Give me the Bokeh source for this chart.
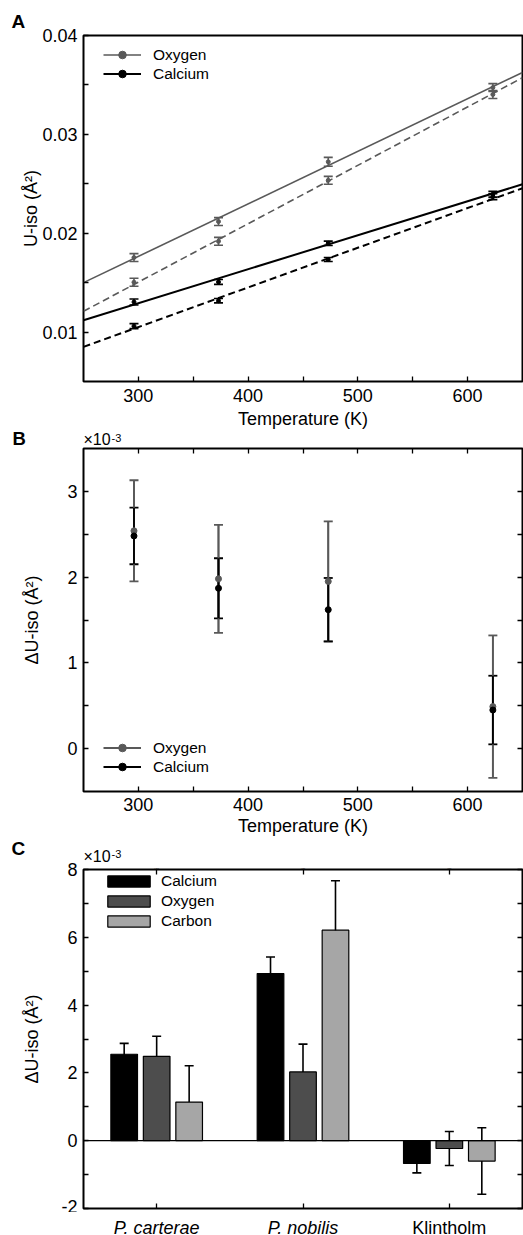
from bokeh.plotting import figure
from bokeh.models import (FixedTicker, LinearAxis, CategoricalAxis, Whisker, TeeHead, Legend,
                          LegendItem, ColumnDataSource, Span, PrintfTickFormatter,
                          Range1d, FactorRange)
from bokeh.core.properties import value
from bokeh.layouts import column
from bokeh.transform import dodge
from bokeh.embed import file_html
from bokeh.resources import INLINE

# ---------------- data ----------------
# Panel A: U-iso vs temperature
temps = [296, 373, 473, 623]
oxy_solid = [0.01754, 0.02118, 0.02722, 0.03473]
oxy_solid_err = [0.0004, 0.0004, 0.00045, 0.0004]
oxy_dashed = [0.01504, 0.01918, 0.02535, 0.03403]
oxy_dashed_err = [0.0004, 0.0004, 0.0004, 0.0004]
ca_solid = [0.01304, 0.01507, 0.01898, 0.02395]
ca_solid_err = [0.0003, 0.00025, 0.00022, 0.0003]
ca_dashed = [0.0106, 0.01317, 0.01734, 0.0237]
ca_dashed_err = [0.00025, 0.00022, 0.0002, 0.0003]
# linear fits evaluated at the axis limits
fit_temps = [250, 650]
oxy_fit_solid = [0.0150, 0.03626]
oxy_fit_dashed = [0.0121, 0.03573]
ca_fit_solid = [0.0112, 0.02495]
ca_fit_dashed = [0.0085, 0.02455]

# Panel B: delta U-iso (x10^-3)
d_oxy = [2.54, 1.98, 1.95, 0.49]
d_oxy_err = [0.59, 0.63, 0.70, 0.83]
d_ca = [2.48, 1.87, 1.62, 0.45]
d_ca_err = [0.33, 0.35, 0.37, 0.40]

# Panel C: delta U-iso per sample (x10^-3)
species = ["P. carterae", "P. nobilis", "Klintholm"]
species_italic = ["P. carterae", "P. nobilis"]
species_plain = ["Klintholm"]
c_ca = [2.55, 4.93, -0.67]
c_ca_err = [0.32, 0.49, 0.28]
c_oxy = [2.49, 2.03, -0.23]
c_oxy_err = [0.59, 0.82, 0.50]
c_carb = [1.14, 6.21, -0.60]
c_carb_err = [1.07, 1.46, 0.98]

x_major = [300, 400, 500, 600]
x_minor = [350, 450, 550]

# ---------------- style ----------------
FONT = "Liberation Sans"
W = 523
GRAY = "#595959"
TICK_PX = "18px"


def no_align(p):
    if "frame_align" in p.properties():
        p.frame_align = False


def make_fig(height, x_range, y_range, top, bottom):
    p = figure(width=W, height=height, x_range=x_range, y_range=y_range,
               output_backend="svg", toolbar_location=None,
               min_border_left=83, min_border_right=1, min_border_top=top,
               min_border_bottom=bottom)
    p.grid.visible = False
    p.outline_line_color = "black"
    p.outline_line_width = 2
    p.outline_line_alpha = 1
    p.background_fill_color = "white"
    p.border_fill_color = "white"
    return p


def style_axis(ax, hidden=False):
    ax.axis_line_color = None
    ax.major_tick_in = 5
    ax.major_tick_out = 0
    ax.minor_tick_in = 5
    ax.minor_tick_out = 0
    ax.major_tick_line_color = "black"
    ax.minor_tick_line_color = "black"
    ax.major_tick_line_width = 1.3
    ax.minor_tick_line_width = 1.3
    ax.major_label_text_font = FONT
    ax.major_label_text_font_size = TICK_PX
    ax.major_label_text_color = "black"
    ax.axis_label_text_font = FONT
    ax.axis_label_text_font_size = "18px"
    ax.axis_label_text_font_style = "normal"
    ax.axis_label_text_color = "black"
    if hidden:
        ax.major_label_text_font_size = "1px"
        ax.major_label_standoff = 0
        ax.axis_label = None


def header(height, items):
    """A text strip (1 unit = 1 pixel of the page, y measured from the strip top)."""
    p = figure(width=W, height=height, x_range=Range1d(0, W), y_range=Range1d(height, 0),
               x_axis_type=None, y_axis_type=None, output_backend="svg",
               toolbar_location=None, min_border_left=0, min_border_right=0,
               min_border_top=0, min_border_bottom=0, outline_line_color=None)
    no_align(p)
    p.grid.visible = False
    for x, y, txt, size, style in items:
        p.text(x=[x], y=[y], text=[txt], text_font=value(FONT),
               text_font_size=value(size), text_font_style=value(style),
               text_baseline=value("middle"), text_align=value("left"),
               text_color="black")
    return p


def whisker(p, src, base, upper, lower, color, size=9, width=1.6):
    w = Whisker(source=src, base=base, upper=upper, lower=lower,
                line_color=color, line_width=width,
                upper_head=TeeHead(size=size, line_color=color, line_width=width),
                lower_head=TeeHead(size=size, line_color=color, line_width=width))
    p.add_layout(w)
    return w


def err_src(x, vals, errs):
    return ColumnDataSource(dict(t=x, v=vals,
                                 up=[v + e for v, e in zip(vals, errs)],
                                 lo=[v - e for v, e in zip(vals, errs)]))


# ---------------- Panel A ----------------
hA = header(28, [(11, 21, "A", "19px", "bold")])

pa = make_fig(403, Range1d(250, 650), Range1d(0.005, 0.04), 7, 47)
xa, ya = pa.xaxis[0], pa.yaxis[0]
xa.ticker = FixedTicker(ticks=x_major, minor_ticks=x_minor)
ya.ticker = FixedTicker(ticks=[0.01, 0.02, 0.03, 0.04], minor_ticks=[0.015, 0.025, 0.035])
ya.formatter = PrintfTickFormatter(format="%.2f")
style_axis(xa)
style_axis(ya)
xa.axis_label = "Temperature (K)"
ya.axis_label = "U-iso (Å²)"
xa.major_label_standoff = 7
xa.axis_label_standoff = 4
ya.major_label_standoff = 6
ya.axis_label_standoff = -2

fit_src = ColumnDataSource(dict(t=fit_temps, os=oxy_fit_solid, od=oxy_fit_dashed,
                                cs=ca_fit_solid, cd=ca_fit_dashed))
l_os = pa.line("t", "os", source=fit_src, line_color=GRAY, line_width=1.6)
pa.line("t", "od", source=fit_src, line_color=GRAY, line_width=1.6, line_dash="7 4")
l_cs = pa.line("t", "cs", source=fit_src, line_color="black", line_width=2)
pa.line("t", "cd", source=fit_src, line_color="black", line_width=2, line_dash="7 4")

series_a = [
    (oxy_solid, oxy_solid_err, GRAY),
    (oxy_dashed, oxy_dashed_err, GRAY),
    (ca_solid, ca_solid_err, "black"),
    (ca_dashed, ca_dashed_err, "black"),
]
pts = []
for vals, errs, col in series_a:
    src = err_src(temps, vals, errs)
    whisker(pa, src, "t", "up", "lo", col, size=9, width=1.6)
    pts.append(pa.scatter("t", "v", source=src, size=4, color=col))

leg_a = Legend(items=[LegendItem(label="Oxygen", renderers=[l_os, pts[0]]),
                      LegendItem(label="Calcium", renderers=[l_cs, pts[2]])],
               location=(20, 298), border_line_color=None, background_fill_alpha=0,
               padding=0, spacing=0, margin=0, glyph_width=38, glyph_height=19,
               label_height=19, label_standoff=12, label_text_font=FONT,
               label_text_font_size="15.5px", label_text_color="black")
pa.add_layout(leg_a)

# ---------------- Panel B ----------------
hB = header(16, [(12, 7.4, "B", "18.5px", "bold"),
                 (83, 8.2, "×10", "16px", "normal"),
                 (111, 6.5, "-3", "11px", "normal")])

pb = make_fig(391, Range1d(250, 650), Range1d(-0.5, 3.5), 1, 43)
xb, yb = pb.xaxis[0], pb.yaxis[0]
xb.ticker = FixedTicker(ticks=x_major, minor_ticks=x_minor)
yb.ticker = FixedTicker(ticks=[0, 1, 2, 3], minor_ticks=[0.5, 1.5, 2.5])
style_axis(xb)
style_axis(yb)
xb.axis_label = "Temperature (K)"
yb.axis_label = "ΔU-iso (Å²)"
xb.major_label_standoff = 6
xb.axis_label_standoff = 2
yb.major_label_standoff = 6
yb.axis_label_standoff = 22
ra = LinearAxis(ticker=FixedTicker(ticks=[0, 1, 2, 3], minor_ticks=[0.5, 1.5, 2.5]),
                formatter=PrintfTickFormatter(format=""))
ta = LinearAxis(ticker=FixedTicker(ticks=x_major, minor_ticks=x_minor),
                formatter=PrintfTickFormatter(format=""))
style_axis(ra, hidden=True)
style_axis(ta, hidden=True)
pb.add_layout(ra, "right")
pb.add_layout(ta, "above")

src_bo = err_src(temps, d_oxy, d_oxy_err)
src_bc = err_src(temps, d_ca, d_ca_err)
seg_bo = pb.segment(x0="t", y0="lo", x1="t", y1="up", source=src_bo, line_color=GRAY, line_width=1.8)
whisker(pb, src_bo, "t", "up", "lo", GRAY, size=9, width=1.8)
seg_bc = pb.segment(x0="t", y0="lo", x1="t", y1="up", source=src_bc, line_color="black", line_width=1.8)
whisker(pb, src_bc, "t", "up", "lo", "black", size=9, width=1.8)
s_bo = pb.scatter("t", "v", source=src_bo, size=6, color=GRAY)
s_bc = pb.scatter("t", "v", source=src_bc, size=6, color="black")
leg_b = Legend(items=[LegendItem(label="Oxygen", renderers=[seg_bo, s_bo]),
                      LegendItem(label="Calcium", renderers=[seg_bc, s_bc])],
               location=(20, 15), border_line_color=None, background_fill_alpha=0,
               padding=0, spacing=0, margin=0, glyph_width=38, glyph_height=19,
               label_height=19, label_standoff=12, label_text_font=FONT,
               label_text_font_size="15.5px", label_text_color="black")
pb.add_layout(leg_b)

# ---------------- Panel C ----------------
hC = header(24, [(11, 9.5, "C", "19px", "bold"),
                 (83, 18.2, "×10", "16px", "normal"),
                 (111, 15, "-3", "11px", "normal")])

pc = make_fig(350, FactorRange(*species), Range1d(-2, 8), 7, 1)
xc, yc = pc.xaxis[0], pc.yaxis[0]
yc.ticker = FixedTicker(ticks=[-2, 0, 2, 4, 6, 8], minor_ticks=[-1, 1, 3, 5, 7])
style_axis(yc)
style_axis(xc, hidden=True)
xc.major_label_overrides = {s: "" for s in species}
yc.axis_label = "ΔU-iso (Å²)"
yc.major_label_standoff = 6
yc.axis_label_standoff = 16
yc.major_label_overrides = {-2: "-2"}
rc = LinearAxis(ticker=FixedTicker(ticks=[-2, 0, 2, 4, 6, 8], minor_ticks=[-1, 1, 3, 5, 7]),
                formatter=PrintfTickFormatter(format=""))
tc = CategoricalAxis(major_label_overrides={s: "" for s in species})
style_axis(rc, hidden=True)
style_axis(tc, hidden=True)
pc.add_layout(rc, "right")
pc.add_layout(tc, "above")

src_c = ColumnDataSource(dict(
    sp=species, ca=c_ca, oxy=c_oxy, carb=c_carb,
    ca_up=[v + e for v, e in zip(c_ca, c_ca_err)], ca_lo=[v - e for v, e in zip(c_ca, c_ca_err)],
    oxy_up=[v + e for v, e in zip(c_oxy, c_oxy_err)], oxy_lo=[v - e for v, e in zip(c_oxy, c_oxy_err)],
    carb_up=[v + e for v, e in zip(c_carb, c_carb_err)], carb_lo=[v - e for v, e in zip(c_carb, c_carb_err)],
))
OFF = 0.222
BW = 0.182
bar_specs = [("ca", -OFF, "#000000", "Calcium"),
             ("oxy", 0.0, "#4d4d4d", "Oxygen"),
             ("carb", OFF, "#a6a6a6", "Carbon")]
bar_items = []
for key, off, col, name in bar_specs:
    r = pc.vbar(x=dodge("sp", off, range=pc.x_range), top=key, bottom=0, width=BW,
                source=src_c, fill_color=col, line_color="black", line_width=1.2)
    bar_items.append(LegendItem(label=name, renderers=[r]))
pc.add_layout(Span(location=0, dimension="width", line_color="black", line_width=1.3))
for key, off, col, name in bar_specs:
    whisker(pc, src_c, dodge("sp", off, range=pc.x_range), key + "_up", key + "_lo",
            "black", size=9, width=1.6)

leg_c = Legend(items=bar_items, location=(19, 278), border_line_color=None,
               background_fill_alpha=0, padding=0, spacing=2, margin=0,
               glyph_width=53, glyph_height=14, label_height=14, label_standoff=6,
               label_text_font=FONT, label_text_font_size="15.5px", label_text_color="black")
pc.add_layout(leg_c)

# category labels under panel C (italic species names, plain locality)
fc = figure(width=W, height=23, x_range=pc.x_range, y_range=Range1d(23, 0),
            x_axis_type=None, y_axis_type=None, output_backend="svg",
            toolbar_location=None, min_border_left=83, min_border_right=1,
            min_border_top=0, min_border_bottom=0, outline_line_color=None)
fc.grid.visible = False
for names, style in ((species_italic, "italic"), (species_plain, "normal")):
    fc.text(x=names, y=[15] * len(names), text=names, text_font=value(FONT),
            text_font_size=value("18px"), text_font_style=value(style),
            text_align=value("center"), text_baseline=value("middle"),
            text_color="black")

layout = column(hA, pa, hB, pb, hC, pc, fc, spacing=0)
open("out.html", "w").write(file_html(layout, INLINE))
